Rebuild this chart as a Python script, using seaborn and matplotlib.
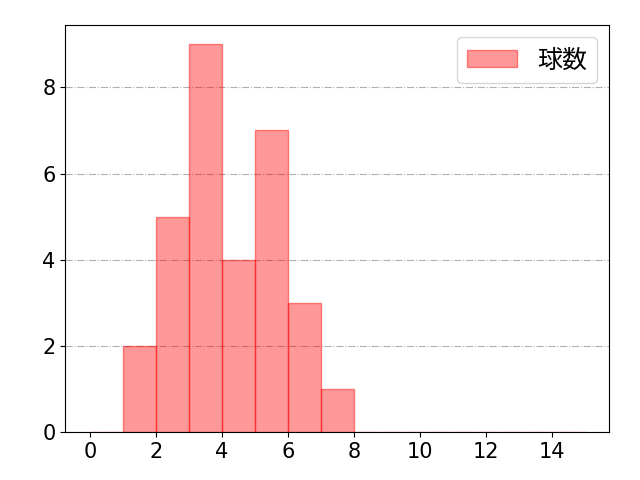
import numpy as np
import pandas as pd
import matplotlib
matplotlib.use("Agg")
import matplotlib.pyplot as plt
import seaborn as sns

# histogram data: bin left edges (width 1) and the count in each bin
BIN_LEFT = [0, 1, 2, 3, 4, 5, 6, 7, 8, 9, 10, 11, 12, 13, 14]
COUNTS = [0, 2, 5, 9, 4, 7, 3, 1, 0, 0, 0, 0, 0, 0, 0]
LABEL = "球数"

sns.set_style("ticks")
plt.rcParams["font.family"] = ["DejaVu Sans", "Noto Sans CJK JP"]
plt.rcParams["font.size"] = 15
plt.rcParams["text.color"] = "black"

df = pd.DataFrame({"x": np.array(BIN_LEFT) + 0.5, "n": COUNTS})

fig, ax = plt.subplots(figsize=(6.4, 4.8), dpi=100)
sns.histplot(data=df, x="x", weights="n", binwidth=1, binrange=(0, 15),
             color="red", alpha=0.4, edgecolor=(1, 0, 0, 0.45), linewidth=1,
             label=LABEL, ax=ax)

ax.set_xlabel("")
ax.set_ylabel("")
ax.set_xticks(range(0, 15, 2))
ax.grid(axis="y", linestyle="-.", color="#b0b0b0", linewidth=0.8)
ax.tick_params(labelsize=15, colors="black")
for s in ax.spines.values():
    s.set_visible(True)
    s.set_color("black")
leg = ax.legend(loc="upper right",
                prop={"family": ["Noto Sans CJK JP", "DejaVu Sans"], "size": 18})

fig.subplots_adjust(left=0.102, right=0.952, top=0.948, bottom=0.1)
plt.savefig("out.png", dpi=100)
plt.close()
